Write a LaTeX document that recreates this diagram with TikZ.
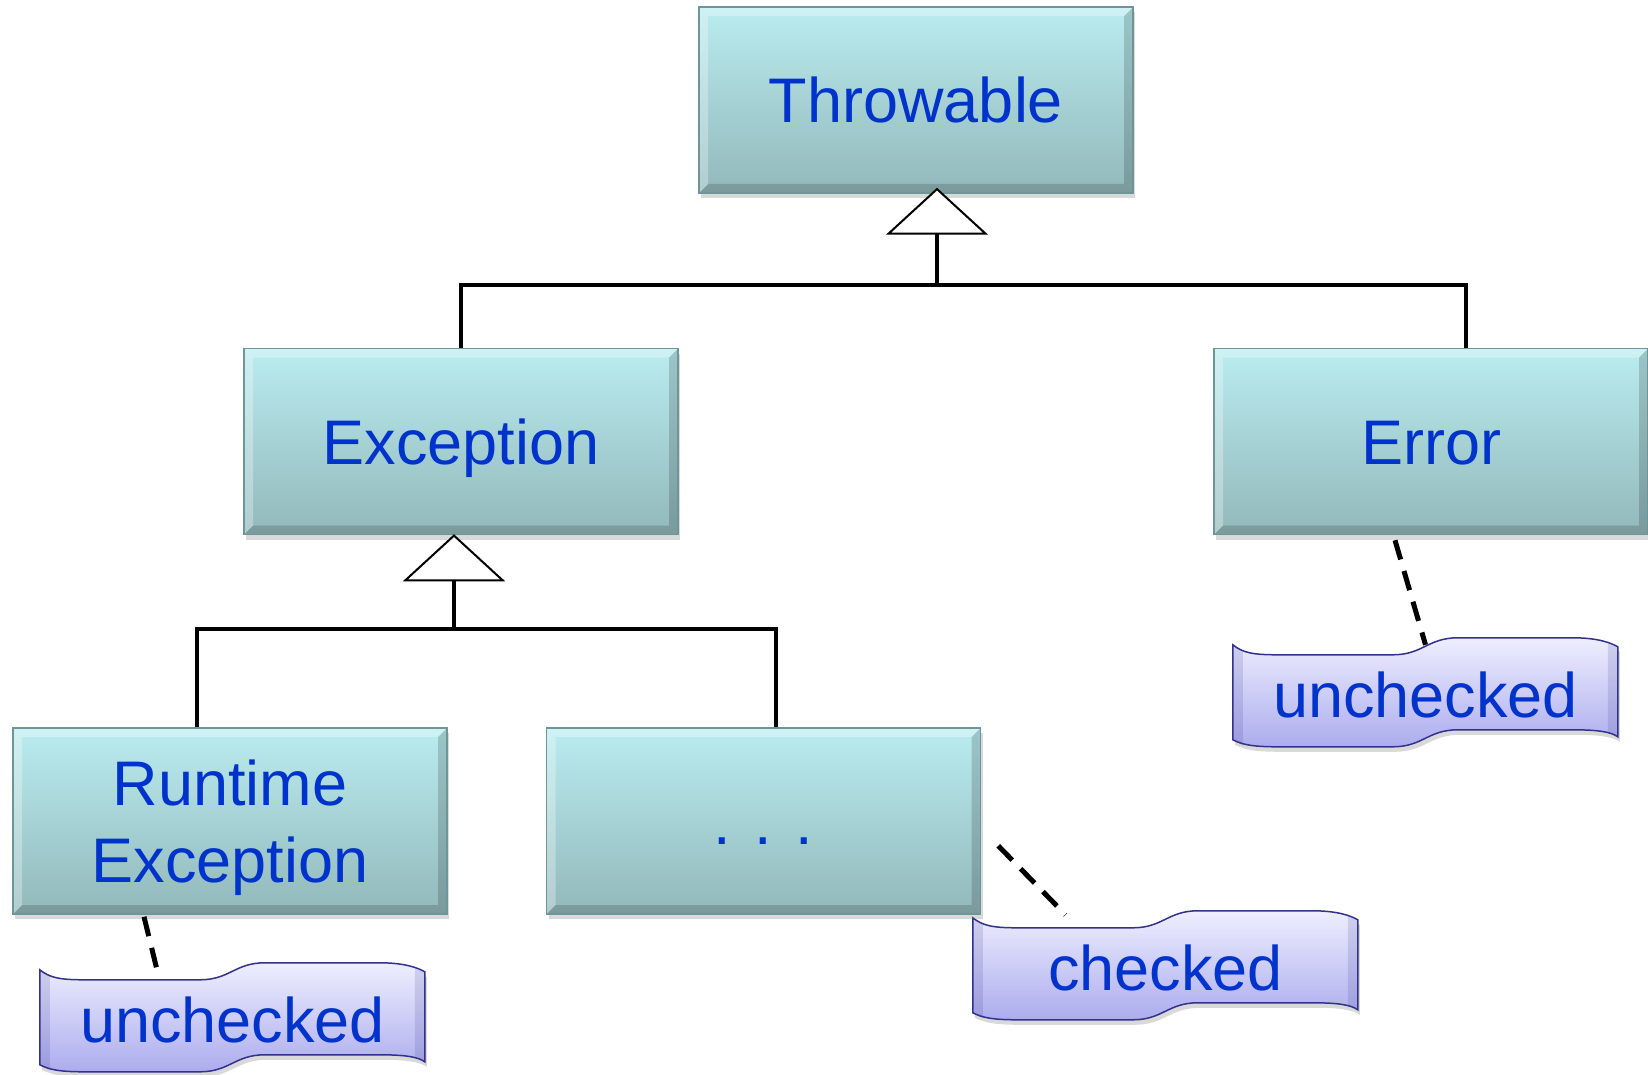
\documentclass[tikz,border=0pt]{standalone}
\usepackage{fontspec}
\setmainfont{Liberation Sans}
\usetikzlibrary{positioning}
\usetikzlibrary{arrows.meta, shadows, backgrounds}

\definecolor{txtblue}{RGB}{0,51,204}
\definecolor{boxtop}{RGB}{186,236,240}
\definecolor{boxbot}{RGB}{146,184,186}
\definecolor{boxedge}{RGB}{110,150,152}
\definecolor{wavetop}{RGB}{238,238,255}
\definecolor{wavebot}{RGB}{172,172,238}
\definecolor{waveedge}{RGB}{50,50,140}

\tikzset{
  classbox/.style={rectangle, minimum width=434pt, minimum height=186pt, inner sep=0pt,
    top color=boxtop, bottom color=boxbot, draw=boxedge, line width=1.5pt,
    drop shadow={shadow xshift=2pt, shadow yshift=-5pt, opacity=.3},
    font=\fontsize{63}{77}\selectfont, text=txtblue, align=center, text depth=0pt,
    path picture={
      \fill[black,opacity=.16] (path picture bounding box.south west) -- (path picture bounding box.south east)
        -- (path picture bounding box.north east) -- ([shift={(-9pt,-9pt)}]path picture bounding box.north east)
        -- ([shift={(-9pt,9pt)}]path picture bounding box.south east) -- ([shift={(9pt,9pt)}]path picture bounding box.south west) -- cycle;
      \fill[white,opacity=.3] (path picture bounding box.south west) -- ([shift={(9pt,9pt)}]path picture bounding box.south west)
        -- ([shift={(9pt,-9pt)}]path picture bounding box.north west) -- ([shift={(-9pt,-9pt)}]path picture bounding box.north east)
        -- (path picture bounding box.north east) -- (path picture bounding box.north west) -- cycle;
    }},
  onerow/.style={classbox, text height=46pt},
  wavelbl/.style={minimum width=385pt, minimum height=92pt, text height=52pt, text depth=0pt, inner sep=0pt,
    font=\fontsize{63}{77}\selectfont, text=txtblue},
  wave/.style={top color=wavetop, bottom color=wavebot, draw=waveedge, line width=1.5pt,
    drop shadow={shadow xshift=2pt, shadow yshift=-5pt, opacity=.3}},
  tree/.style={line width=4.5pt},
  note/.style={line width=5pt, dash pattern=on 20pt off 12pt},
  gen/.style={-{Triangle[fill=white, length=47pt, width=102pt, line width=2pt]}}
}

% banner shape, origin at its top left corner
\newcommand{\wavebox}[1]{%
  \begin{scope}[shift={(#1.north west)}]
    \shade[wave] (0,0) .. controls (10,8) and (20,10) .. (45,10) -- (160,10)
      .. controls (190,10) and (195,-7) .. (225,-7) -- (340,-7)
      .. controls (365,-7) and (378,-2) .. (385,2)
      -- (385,92) .. controls (378,87) and (365,85) .. (340,85) -- (225,85)
      .. controls (195,85) and (190,102) .. (160,102) -- (45,102)
      .. controls (20,102) and (10,100) .. (0,95) -- cycle;
    \fill[waveedge,opacity=.15] (0,0) -- (10,6) -- (10,101) -- (0,95) -- cycle;
    \fill[waveedge,opacity=.15] (385,2) -- (375,-1) -- (375,88) -- (385,92) -- cycle;
  \end{scope}}

\begin{document}
\begin{tikzpicture}[x=1pt, y=-1pt]
\useasboundingbox (0,0) rectangle (1648,1075);
% classes
\node[onerow] (thr) at (916,100) {Throwable};
\node[onerow] (exc) at (461,441.5) {Exception};
\node[onerow] (err) at (1431,441.5) {Error};
\node[classbox] (rte) at (230,821) {Runtime\\Exception};
\node[onerow] (etc) at (763.5,821) {. . .};

% generalisation
\coordinate (bar1) at (937,285);
\coordinate (bar2) at (454,629);
\draw[tree] (exc.north) |- (bar1) -| ([xshift=35pt]err.north);
\draw[tree, gen] (bar1) -- ([xshift=21pt, yshift=6pt]thr.south);
\draw[tree] ([xshift=-33pt]rte.north) |- (bar2) -| ([xshift=12.5pt]etc.north);
\draw[tree, gen] (bar2) -- ([xshift=-7pt, yshift=1pt]exc.south);

% notes
\node[wavelbl] (chkErr) at (1425.5,691) {unchecked};
\node[wavelbl] (chkRte) at (232.5,1016) {unchecked};
\node[wavelbl] (chkEtc) at (1165.5,964) {checked};
\begin{pgfonlayer}{background}
\wavebox{chkErr}
\wavebox{chkRte}
\wavebox{chkEtc}
\end{pgfonlayer}
\draw[note] ([shift={(-36,5)}]err.south) -- (chkErr.north);
\draw[note] ([shift={(-86,2)}]rte.south) -- ([shift={(-75,2)}]chkRte.north);
\draw[note] ([shift={(17,-69)}]etc.south east) -- ([shift={(-100,-3)}]chkEtc.north);

\end{tikzpicture}
\end{document}
